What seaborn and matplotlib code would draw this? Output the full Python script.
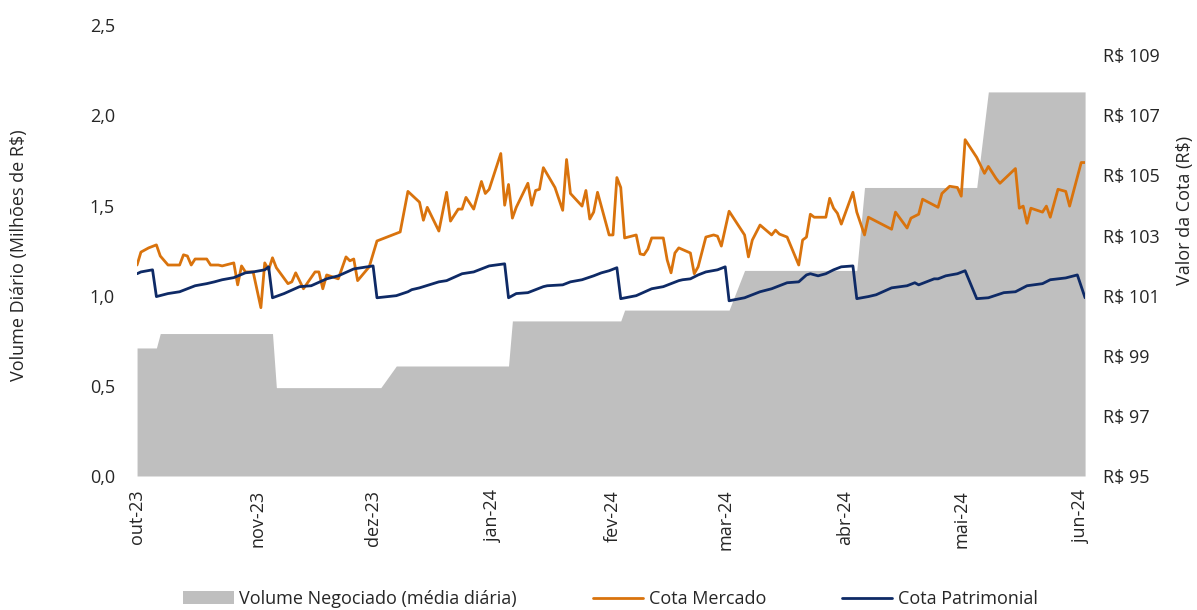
import pandas as pd
import matplotlib.pyplot as plt
import seaborn as sns

# Dias contados a partir de 01/10/2023
INICIO = pd.Timestamp("2023-10-01")

# Volume negociado (média diária, milhões de R$)
volume_dias = [0, 5, 6, 35, 36, 63, 67, 96, 97, 125, 126, 153, 157, 186, 188, 217, 220, 245]
volume_valores = [0.71, 0.71, 0.79, 0.79, 0.49, 0.49, 0.61, 0.61, 0.86, 0.86,
                  0.92, 0.92, 1.14, 1.14, 1.60, 1.60, 2.13, 2.13]

# Cota Mercado (R$)
mercado_dias = [
    0, 1, 3, 5, 6, 8, 11, 12, 13, 14,
    15, 18, 19, 21, 22, 25, 26, 27, 28, 30,
    32, 33, 34, 35, 36, 39, 40, 41, 43, 46,
    47, 48, 49, 52, 54, 55, 56, 57, 60, 61,
    62, 68, 70, 73, 74, 75, 78, 80, 81, 83,
    84, 85, 87, 89, 90, 91, 94, 95, 96, 97,
    98, 101, 102, 103, 104, 105, 108, 110, 111, 112,
    115, 116, 117, 118, 119, 122, 123, 124, 125, 126,
    129, 130, 131, 132, 133, 136, 137, 138, 139, 140,
    143, 144, 145, 147, 149, 150, 151, 153, 157, 158,
    159, 161, 164, 165, 166, 168, 171, 172, 173, 174,
    175, 178, 179, 180, 181, 182, 185, 186, 188, 189,
    195, 196, 199, 200, 202, 203, 207, 208, 210, 212,
    213, 214, 217, 219, 220, 222, 223, 227, 228, 229,
    230, 231, 234, 235, 236, 238, 240, 241, 244, 245,
]
mercado_valores = [
    102.02, 102.45, 102.59, 102.69, 102.32, 102.02, 102.02, 102.36, 102.32, 102.02,
    102.22, 102.22, 102.02, 102.02, 101.99, 102.09, 101.36, 101.99, 101.79, 101.79,
    100.60, 102.09, 101.86, 102.26, 101.93, 101.40, 101.46, 101.76, 101.23, 101.79,
    101.79, 101.23, 101.69, 101.56, 102.29, 102.16, 102.22, 101.50, 101.96, 102.39,
    102.82, 103.12, 104.47, 104.11, 103.51, 103.94, 103.15, 104.44, 103.48, 103.88,
    103.88, 104.27, 103.88, 104.80, 104.40, 104.54, 105.73, 104.01, 104.70, 103.58,
    103.94, 104.74, 104.01, 104.50, 104.54, 105.26, 104.60, 103.84, 105.53, 104.40,
    103.98, 104.50, 103.55, 103.78, 104.44, 103.02, 103.02, 104.93, 104.60, 102.92,
    103.02, 102.39, 102.36, 102.55, 102.92, 102.92, 102.19, 101.76, 102.42, 102.59,
    102.42, 101.73, 101.96, 102.95, 103.02, 102.98, 102.65, 103.81, 103.02, 102.29,
    102.85, 103.35, 103.02, 103.18, 103.05, 102.95, 102.02, 102.85, 102.95, 103.71,
    103.61, 103.61, 104.24, 103.91, 103.74, 103.38, 104.44, 103.78, 103.02, 103.61,
    103.21, 103.78, 103.25, 103.58, 103.71, 104.21, 103.94, 104.40, 104.64, 104.60,
    104.31, 106.19, 105.60, 105.07, 105.30, 104.90, 104.74, 105.23, 103.91, 103.98,
    103.41, 103.91, 103.78, 103.98, 103.61, 104.54, 104.47, 103.98, 105.43, 105.43,
]

# Cota Patrimonial (R$)
patrimonial_dias = [
    0, 1, 4, 5, 8, 11, 13, 15, 18, 20,
    22, 25, 28, 30, 33, 34, 35, 38, 42, 45,
    49, 52, 56, 58, 61, 62, 67, 70, 71, 73,
    78, 80, 84, 87, 91, 95, 96, 98, 101, 105,
    106, 110, 112, 115, 118, 120, 122, 124, 125, 129,
    133, 136, 140, 141, 143, 145, 147, 150, 152, 153,
    157, 161, 164, 168, 171, 173, 174, 176, 178, 180,
    182, 185, 186, 189, 191, 195, 199, 201, 202, 206,
    207, 209, 212, 214, 217, 220, 224, 227, 230, 234,
    236, 240, 243, 245,
]
patrimonial_valores = [
    101.73, 101.79, 101.86, 100.97, 101.07, 101.13, 101.23, 101.33, 101.40, 101.46,
    101.53, 101.60, 101.76, 101.79, 101.86, 101.96, 100.93, 101.07, 101.30, 101.33,
    101.56, 101.66, 101.89, 101.93, 101.99, 100.93, 101.00, 101.13, 101.20, 101.26,
    101.46, 101.50, 101.73, 101.79, 101.99, 102.06, 100.93, 101.07, 101.10, 101.30,
    101.33, 101.36, 101.46, 101.53, 101.66, 101.76, 101.83, 101.93, 100.90, 101.00,
    101.23, 101.30, 101.50, 101.53, 101.56, 101.69, 101.79, 101.86, 101.96, 100.83,
    100.93, 101.13, 101.23, 101.43, 101.46, 101.69, 101.73, 101.66, 101.73, 101.86,
    101.96, 101.99, 100.90, 100.97, 101.03, 101.26, 101.33, 101.43, 101.36, 101.56,
    101.56, 101.66, 101.73, 101.83, 100.90, 100.93, 101.10, 101.13, 101.33, 101.40,
    101.53, 101.59, 101.69, 100.93,
]

meses = ["out-23", "nov-23", "dez-23", "jan-24", "fev-24", "mar-24", "abr-24", "mai-24", "jun-24"]
ticks_volume = [0.0, 0.5, 1.0, 1.5, 2.0, 2.5]
ticks_cota = [95, 97, 99, 101, 103, 105, 107, 109]

# Converter dias em datas
def datas(dias):
    return INICIO + pd.to_timedelta(dias, unit="D")

df_mercado = pd.DataFrame({"Data": datas(mercado_dias), "Cota": mercado_valores})
df_patrimonial = pd.DataFrame({"Data": datas(patrimonial_dias), "Cota": patrimonial_valores})

sns.set_style("white")
plt.rcParams["font.family"] = ["Open Sans", "DejaVu Sans"]

COR_VOLUME = "#BFBFBF"
COR_MERCADO = "#D9730D"
COR_PATRIMONIAL = "#0E2A66"
FONTE = 13

fig = plt.figure(figsize=(11.97, 6.10), dpi=100)
ax = fig.add_axes([0.1145, 0.2197, 0.792, 0.739])
ax.fill_between(datas(volume_dias), volume_valores, color=COR_VOLUME, linewidth=0,
                label="Volume Negociado (média diária)")

ax2 = ax.twinx()
sns.lineplot(data=df_mercado, x="Data", y="Cota", ax=ax2, color=COR_MERCADO,
             linewidth=2.0, label="Cota Mercado", legend=False)
sns.lineplot(data=df_patrimonial, x="Data", y="Cota", ax=ax2, color=COR_PATRIMONIAL,
             linewidth=2.0, label="Cota Patrimonial", legend=False)

ax.set_xlim(INICIO, INICIO + pd.Timedelta(days=245))
ax.set_ylim(0, 2.5)
ax2.set_ylim(95, 110)

ax.set_xticks(pd.date_range("2023-10-01", "2024-06-01", freq="MS"))
ax.set_xticklabels(meses, rotation=90, fontsize=FONTE)
ax.set_yticks(ticks_volume)
ax.set_yticklabels([f"{v:.1f}".replace(".", ",") for v in ticks_volume], fontsize=FONTE)
ax2.set_yticks(ticks_cota)
ax2.set_yticklabels([f"R$ {v}" for v in ticks_cota], fontsize=FONTE)

ax.tick_params(axis="x", length=0, pad=10)
ax.tick_params(axis="y", length=0, pad=16)
ax2.tick_params(axis="y", length=0, pad=13)

ax.set_xlabel("")
ax.set_ylabel("Volume Diário (Milhões de R$)", fontsize=FONTE)
ax.yaxis.set_label_coords(-0.115, 0.49)
ax2.set_xlabel("")
ax2.set_ylabel("Valor da Cota (R$)", fontsize=FONTE, rotation=90)
ax2.yaxis.set_label_coords(1.096, 0.59)

for a in (ax, ax2):
    for s in a.spines.values():
        s.set_visible(False)

h1, l1 = ax.get_legend_handles_labels()
h2, l2 = ax2.get_legend_handles_labels()
fig.legend(h1 + h2, l1 + l2, loc="center", bbox_to_anchor=(0.51, 0.018), ncol=3,
           frameon=False, fontsize=FONTE, handlelength=2.8, columnspacing=4.2,
           handletextpad=0.3)

plt.savefig("out.png", dpi=100)
